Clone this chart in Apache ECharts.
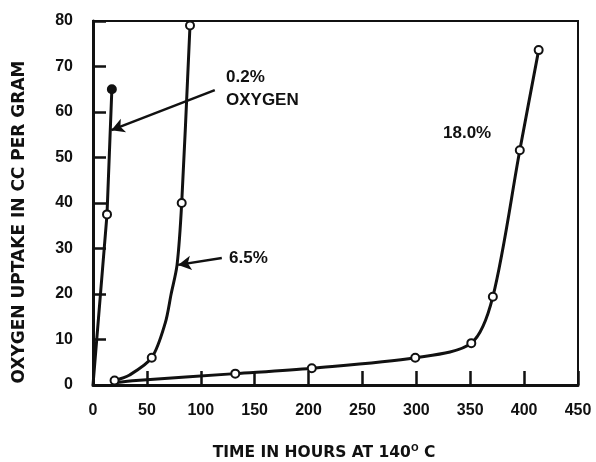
<!DOCTYPE html>
<html>
<head>
<meta charset="utf-8">
<script src="https://cdn.jsdelivr.net/npm/echarts@6/dist/echarts.min.js"></script>
<style>
  html, body { margin: 0; padding: 0; background: #fff; }
  #chart { width: 596px; height: 462px; }
</style>
</head>
<body>
<div id="chart"></div>
<script>
// Oxygen uptake (cc per gram) versus time (hours) at 140 °C, three oxygen levels.
// Curve points; the `measured*` arrays flag which points carry a circle marker.
const hours02    = [0, 13, 17.5];
const uptake02   = [0, 37.5, 65];
const measured02 = [false, true, true];

const hours65    = [20, 34, 54.5, 67, 72.5, 78, 82.3, 90];
const uptake65   = [1, 2.2, 6, 13.6, 20, 26.4, 40, 79];
const measured65 = [true, false, true, false, false, false, true, true];

const hours18    = [20, 40, 132, 203, 299, 351, 371, 396, 413.5];
const uptake18   = [0.5, 1, 2.5, 3.7, 6, 9.2, 19.4, 51.6, 73.6];
const measured18 = [false, false, true, true, true, true, true, true, true];

const xTicks = [0, 50, 100, 150, 200, 250, 300, 350, 400, 450];
const yTicks = [0, 10, 20, 30, 40, 50, 60, 70, 80];

const FONT = 'Liberation Sans';
const TITLE_FONT = 'DejaVu Sans';
const INK = '#111';

function buildData(xs, ys, flags, filledLast) {
  return xs.map((x, i) => {
    const item = { value: [x, ys[i]] };
    if (!flags[i]) {
      item.symbol = 'none';
    } else if (filledLast && i === xs.length - 1) {
      item.itemStyle = { color: INK, borderColor: INK };
    }
    return item;
  });
}

const baseLine = {
  type: 'line',
  symbol: 'circle',
  symbolSize: 8,
  showSymbol: true,
  lineStyle: { color: INK, width: 3 },
  itemStyle: { color: '#fff', borderColor: INK, borderWidth: 2 },
  emphasis: { disabled: true },
  z: 3
};

const chart = echarts.init(document.getElementById('chart'), null, { renderer: 'canvas' });

chart.setOption({
  animation: false,
  backgroundColor: '#fff',
  grid: {
    left: 93, right: 18, top: 21, bottom: 77,
    show: true, borderColor: INK, borderWidth: 2
  },
  xAxis: {
    type: 'value',
    min: xTicks[0], max: xTicks[xTicks.length - 1], interval: 50,
    axisLine: { lineStyle: { color: INK, width: 3 } },
    axisTick: { inside: true, length: 14, lineStyle: { color: INK, width: 2.5 } },
    axisLabel: { fontFamily: FONT, fontWeight: 'bold', fontSize: 16, color: INK, margin: 18 },
    splitLine: { show: false }
  },
  yAxis: {
    type: 'value',
    min: yTicks[0], max: yTicks[yTicks.length - 1], interval: 10,
    axisLine: { lineStyle: { color: INK, width: 3 } },
    axisTick: { inside: true, length: 13, lineStyle: { color: INK, width: 2.5 } },
    axisLabel: { fontFamily: FONT, fontWeight: 'bold', fontSize: 16, color: INK, margin: 20 },
    splitLine: { show: false }
  },
  series: [
    Object.assign({}, baseLine, {
      name: '0.2%',
      data: buildData(hours02, uptake02, measured02, true)
    }),
    Object.assign({}, baseLine, {
      name: '6.5%',
      smooth: 0.3,
      data: buildData(hours65, uptake65, measured65, false)
    }),
    Object.assign({}, baseLine, {
      name: '18.0%',
      smooth: 0.3,
      data: buildData(hours18, uptake18, measured18, false)
    }),
    {
      // pointer arrows from the labels to their curves
      type: 'line',
      data: [],
      silent: true,
      markLine: {
        silent: true,
        symbol: ['none', 'arrow'],
        symbolSize: [11, 13],
        label: { show: false },
        lineStyle: { color: INK, width: 2.5, type: 'solid' },
        data: [
          [{ coord: [113, 64.8] }, { coord: [17, 56] }],
          [{ coord: [119.5, 27.9] }, { coord: [79, 26.4] }]
        ]
      }
    }
  ],
  graphic: [
    {
      type: 'text', x: 20, y: 222, rotation: Math.PI / 2,
      style: {
        text: 'OXYGEN UPTAKE IN CC PER GRAM',
        font: 'bold 17px "DejaVu Sans"', fill: INK,
        align: 'center', verticalAlign: 'middle'
      }
    },
    {
      type: 'text', x: 324, y: 453,
      style: {
        text: '{t|TIME IN HOURS AT 140}{s|O}{t| C}',
        align: 'center', verticalAlign: 'middle',
        rich: {
          t: { fontFamily: TITLE_FONT, fontWeight: 'bold', fontSize: 15.5, fill: INK },
          s: { fontFamily: TITLE_FONT, fontWeight: 'bold', fontSize: 9, fill: INK, verticalAlign: 'top', padding: [0, 0, 9, 0] }
        }
      }
    },
    { type: 'text', left: 226, top: 69, style: { text: '0.2%', font: 'bold 17px "Liberation Sans"', fill: INK } },
    { type: 'text', left: 226, top: 92, style: { text: 'OXYGEN', font: 'bold 17px "Liberation Sans"', fill: INK } },
    { type: 'text', left: 229, top: 250, style: { text: '6.5%', font: 'bold 17px "Liberation Sans"', fill: INK } },
    { type: 'text', left: 443, top: 125, style: { text: '18.0%', font: 'bold 17px "Liberation Sans"', fill: INK } }
  ]
});
</script>
</body>
</html>
